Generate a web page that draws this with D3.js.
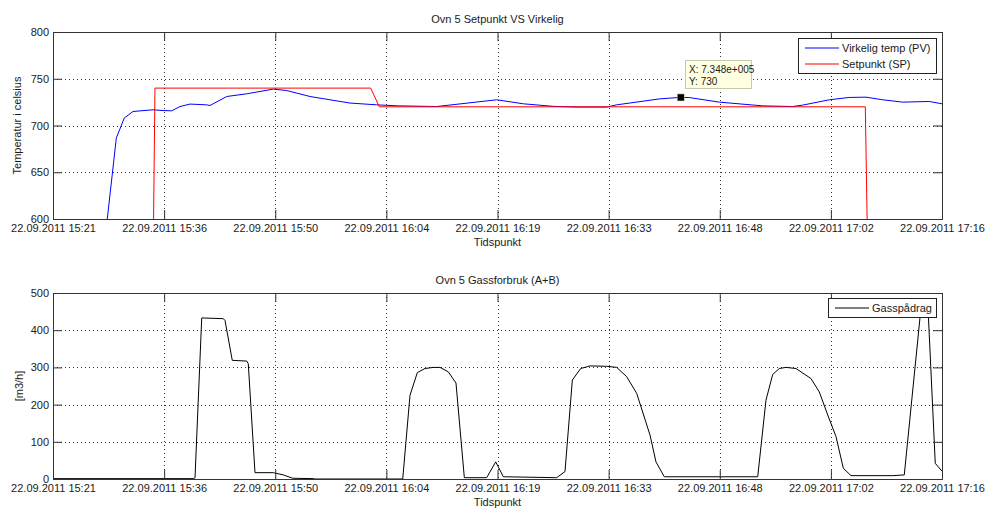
<!DOCTYPE html>
<html>
<head>
<meta charset="utf-8">
<script src="https://cdn.jsdelivr.net/npm/d3@7"></script>
<style>
  body { margin: 0; background: #fff; }
  svg text { font-family: "Liberation Sans", Arial, sans-serif; font-size: 11px; fill: #1a1a1a; }
</style>
</head>
<body>
<div id="chart"></div>
<script>
// time axis: minutes after the first tick (22.09.2011 15:21)
const tickLabels = ["22.09.2011 15:21", "22.09.2011 15:36", "22.09.2011 15:50", "22.09.2011 16:04",
    "22.09.2011 16:19", "22.09.2011 16:33", "22.09.2011 16:48", "22.09.2011 17:02", "22.09.2011 17:16"];
const tickMinutes = [0, 14.375, 28.75, 43.125, 57.5, 71.875, 86.25, 100.625, 115];

// Virkelig temp (PV)
const pvTime = [6.79, 7.02, 8.19, 9.22, 10.35, 12.94, 14.23, 15.35, 16.43, 17.72, 19.88, 20.31, 22.47, 25.06,
    28.50, 30.23, 33.25, 35.83, 38.42, 41.87, 44.67, 49.64, 57.40, 60.84, 64.72, 67.75, 71.63, 72.92, 78.52,
    81.02, 82.31, 86.19, 91.81, 95.69, 96.98, 100.42, 103.01, 105.17, 107.33, 109.92, 113.36, 115.0];
const pvValue = [570, 600, 686.5, 708, 715, 716.8, 716, 715.7, 720.3, 722.9, 722.1, 721.4, 731, 733.9,
    738.9, 737.4, 731, 727.5, 724, 722.1, 721, 720.3, 727.5, 723.2, 720.5, 719.7, 719.7, 722.1, 728.5,
    730, 729.9, 725, 721, 720.3, 721.8, 727.5, 730, 730.3, 727.5, 725, 725.7, 723.2];

// Setpunkt (SP)
const spTime = [12.96, 13.19, 41.10, 42.21, 105.08, 105.39];
const spValue = [560, 740, 740, 720, 720, 560];

// Gasspådrag
const gasTime = [0, 18.15, 18.37, 19.24, 22.03, 22.25, 23.19, 25.06, 25.26, 26.13, 28.50, 29.79, 31.01, 33.67,
    33.89, 45.24, 46.18, 47.13, 48.12, 49.20, 50.06, 51.14, 52.13, 53.21, 56.10, 57.27, 58.25, 65.16, 66.23,
    67.18, 68.26, 69.47, 71.63, 72.92, 74.21, 75.51, 77.23, 78.00, 79.08, 91.16, 92.23, 93.10, 93.95, 94.82,
    96.11, 98.05, 99.13, 100.22, 101.29, 102.23, 103.23, 108.62, 110.12, 112.28, 113.19, 114.13, 115.0];
const gasValue = [1, 1, 3, 433, 431, 426, 319, 317, 310, 17, 17, 11, 2, 1,
    0, 0, 225, 286, 297, 300, 300, 288, 258, 3.5, 3.5, 46, 6, 3.5, 20,
    266, 297, 304, 303, 300, 275, 230, 118, 46, 6, 6, 212, 281, 297, 300,
    297, 270, 234, 172, 114, 29, 9, 9, 11, 460, 460, 42, 21];

// data tip
const tipTime = 81.2;
const tipValue = 730;

const W = 986, H = 508;
const svg = d3.select("#chart").append("svg")
    .attr("width", W)
    .attr("height", H);

const x = d3.scaleLinear().domain([0, 115]).range([53, 942]);

function drawPanel(opt) {
    const y = d3.scaleLinear().domain(opt.yDomain).range([opt.bottom, opt.top]);
    const g = svg.append("g");
    const clipId = "clip-" + opt.id;

    g.append("clipPath").attr("id", clipId)
        .append("rect")
        .attr("x", x.range()[0]).attr("y", opt.top)
        .attr("width", x.range()[1] - x.range()[0])
        .attr("height", opt.bottom - opt.top);

    // dotted grid
    g.append("g").selectAll("line.gx")
        .data(tickMinutes.slice(1, -1))
        .join("line")
        .attr("x1", d => Math.round(x(d)) + 0.5).attr("x2", d => Math.round(x(d)) + 0.5)
        .attr("y1", opt.top).attr("y2", opt.bottom)
        .attr("stroke", "#333").attr("stroke-dasharray", "1,3");
    g.append("g").selectAll("line.gy")
        .data(opt.yTicks.slice(1, -1))
        .join("line")
        .attr("x1", x.range()[0]).attr("x2", x.range()[1])
        .attr("y1", d => Math.round(y(d)) + 0.5).attr("y2", d => Math.round(y(d)) + 0.5)
        .attr("stroke", "#333").attr("stroke-dasharray", "1,3");

    // data lines
    const line = d3.line().x(d => x(d[0])).y(d => y(d[1]));
    opt.series.forEach(s => {
        g.append("path")
            .datum(d3.zip(s.t, s.v))
            .attr("clip-path", `url(#${clipId})`)
            .attr("fill", "none")
            .attr("stroke", s.color)
            .attr("stroke-width", 1)
            .attr("d", line);
    });

    // axes (ticks inward on all four sides)
    const xb = d3.axisBottom(x).tickValues(tickMinutes).tickSize(-9).tickPadding(5)
        .tickFormat((d, i) => tickLabels[i]);
    const xt = d3.axisTop(x).tickValues(tickMinutes).tickSize(-9).tickFormat("");
    const yl = d3.axisLeft(y).tickValues(opt.yTicks).tickSize(-9).tickPadding(4);
    const yr = d3.axisRight(y).tickValues(opt.yTicks).tickSize(-9).tickFormat("");

    [[xb, `translate(0,${opt.bottom})`], [xt, `translate(0,${opt.top})`],
     [yl, `translate(${x.range()[0]},0)`], [yr, `translate(${x.range()[1]},0)`]].forEach(([ax, tr]) => {
        const a = g.append("g").attr("transform", tr).call(ax);
        a.select(".domain").attr("stroke", "#333");
        a.selectAll(".tick line").attr("stroke", "#333");
        a.selectAll("text").attr("fill", "#1a1a1a").style("font-size", "11px")
            .style("font-family", "'Liberation Sans', Arial, sans-serif");
    });

    // title and axis labels
    g.append("text")
        .attr("x", (x.range()[0] + x.range()[1]) / 2)
        .attr("y", opt.top - 9)
        .attr("text-anchor", "middle")
        .text(opt.title);
    g.append("text")
        .attr("x", (x.range()[0] + x.range()[1]) / 2)
        .attr("y", opt.bottom + 27)
        .attr("text-anchor", "middle")
        .text("Tidspunkt");
    g.append("text")
        .attr("transform", `translate(${opt.yLabelX},${(opt.top + opt.bottom) / 2}) rotate(-90)`)
        .attr("text-anchor", "middle")
        .text(opt.yLabel);

    // legend
    const lg = g.append("g");
    lg.append("rect")
        .attr("x", opt.legend.x + 0.5).attr("y", opt.legend.y + 0.5)
        .attr("width", opt.legend.w).attr("height", opt.legend.h)
        .attr("fill", "#fff").attr("stroke", "#222");
    opt.series.forEach((s, i) => {
        const ly = opt.legend.y + 10 + i * 16;
        lg.append("line")
            .attr("x1", opt.legend.x + 7).attr("x2", opt.legend.x + 41)
            .attr("y1", ly).attr("y2", ly)
            .attr("stroke", s.color)
            .attr("stroke-width", 1.2);
        lg.append("text")
            .attr("x", opt.legend.x + 44).attr("y", ly + 4)
            .text(s.name);
    });

    return y;
}

drawPanel({
    id: "temp", top: 32, bottom: 219,
    yDomain: [600, 800], yTicks: [600, 650, 700, 750, 800],
    title: "Ovn 5 Setpunkt VS Virkelig", yLabel: "Temperatur i celsius", yLabelX: 21,
    legend: { x: 798, y: 38, w: 138, h: 35 },
    series: [
        { name: "Virkelig temp (PV)", color: "#0000ff", t: pvTime, v: pvValue },
        { name: "Setpunkt (SP)", color: "#ff0000", t: spTime, v: spValue }
    ]
});

// data tip on the temperature panel
const yTemp = d3.scaleLinear().domain([600, 800]).range([219, 32]);
const tip = svg.append("g");
tip.append("rect")
    .attr("x", Math.round(x(tipTime)) + 4.5).attr("y", Math.round(yTemp(tipValue)) - 36.5)
    .attr("width", 66).attr("height", 28)
    .attr("fill", "#ffffe1").attr("stroke", "#c8c8b0");
tip.append("text")
    .attr("x", Math.round(x(tipTime)) + 8).attr("y", Math.round(yTemp(tipValue)) - 24)
    .style("font-size", "10px")
    .text("X: 7.348e+005");
tip.append("text")
    .attr("x", Math.round(x(tipTime)) + 8).attr("y", Math.round(yTemp(tipValue)) - 12)
    .style("font-size", "10px")
    .text("Y: " + tipValue);
tip.append("rect")
    .attr("x", x(tipTime) - 3.5).attr("y", yTemp(tipValue) - 3.5)
    .attr("width", 7).attr("height", 7)
    .attr("fill", "#000").attr("stroke", "#d8d8a0").attr("stroke-width", 0.5);

drawPanel({
    id: "gas", top: 293, bottom: 479,
    yDomain: [0, 500], yTicks: [0, 100, 200, 300, 400, 500],
    title: "Ovn 5 Gassforbruk (A+B)", yLabel: "[m3/h]", yLabelX: 23,
    legend: { x: 828, y: 298, w: 108, h: 19 },
    series: [
        { name: "Gasspådrag", color: "#000", t: gasTime, v: gasValue }
    ]
});
</script>
</body>
</html>
